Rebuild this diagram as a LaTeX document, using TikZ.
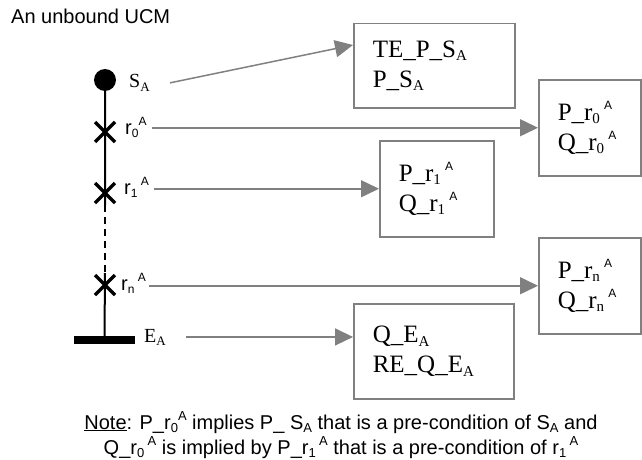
\documentclass[tikz,border=0pt]{standalone}
\usepackage{fontspec}
\setmainfont{Liberation Serif}
\setsansfont{Liberation Sans}
\usetikzlibrary{arrows.meta, calc, positioning}
\definecolor{lgray}{HTML}{808080}
\newcommand{\lo}[2][13]{\raisebox{-0.15em}{\fontsize{#1}{#1}\selectfont #2}}
\newcommand{\hi}[2][12]{\raisebox{0.42em}{\fontsize{#1}{#1}\selectfont\sffamily #2}}
\tikzset{ucm/.style={line width=2pt},
  resp/.style={line width=3.5pt},
  cond/.style={draw=lgray, line width=1.5pt, align=left, anchor=north west, inner xsep=19pt, inner ysep=0pt, font=\fontsize{25}{30}\selectfont},
  link/.style={lgray, line width=1.5pt, -{Triangle[length=18pt, width=17pt]}},
  lbl/.style={inner sep=0pt, anchor=base west, font=\sffamily\fontsize{20}{20}\selectfont},
  tlbl/.style={inner sep=0pt, anchor=base west, font=\fontsize{20}{20}\selectfont}}

\begin{document}
\begin{tikzpicture}[x=1pt, y=-1pt]
  \useasboundingbox (0,0) rectangle (642,460);
  \node[anchor=base west, inner sep=0pt, font=\sffamily\fontsize{20}{20}\selectfont] (title) at (11,24) {An unbound UCM};
  % the path
  \node[circle, fill, inner sep=0pt, minimum size=22pt] (start) at (105,80) {};
  \node[fill, inner sep=0pt, minimum width=61pt, minimum height=8pt] (stop) at (104.5,340) {};
  \coordinate (r0) at (105,132); \coordinate (r1) at (105,193); \coordinate (rn) at (105,285);
  \coordinate (gapa) at (105,205); \coordinate (gapb) at (105,273);
  \draw[ucm] (start) -- (gapa) (gapb) -- (stop.north);
  \draw[ucm, dash pattern=on 7pt off 5pt] (gapa) -- (gapb);
  \foreach \c in {r0,r1,rn}
    \draw[resp] ($(\c)+(-10,-10)$) -- ($(\c)+(10,10)$) ($(\c)+(-10,10)$) -- ($(\c)+(10,-10)$);
  \node[tlbl] (sa) at (129,88) {S\lo{A}};
  \node[lbl] (l0) at (125,134) {r\lo[12]{0}\hi{A}};
  \node[lbl] (l1) at (124,194) {r\lo[12]{1}\,\hi{A}};
  \node[lbl] (ln) at (121,290) {r\lo[12]{n}\,\hi{A}};
  \node[tlbl] (ea) at (144,342) {E\lo{A}};
  % conditions
  \node[cond, text width=123pt, minimum height=84pt] (bs) at (353,23) {TE\_P\_S\lo[15]{A}\\P\_S\lo[15]{A}};
  \node[cond, text width=64pt, minimum height=96pt] (b0) at (538,79) {P\_r\lo[15]{0}\,\hi{A}\\Q\_r\lo[15]{0}\,\hi{A}};
  \node[cond, text width=76pt, minimum height=96pt] (b1) at (379,140) {P\_r\lo[15]{1}\,\hi{A}\\Q\_r\lo[15]{1}\,\hi{A}};
  \node[cond, text width=64pt, minimum height=96pt] (bn) at (538,237) {P\_r\lo[15]{n}\,\hi{A}\\Q\_r\lo[15]{n}\,\hi{A}};
  \node[cond, text width=122pt, minimum height=95pt] (be) at (353,303) {Q\_E\lo[15]{A}\\RE\_Q\_E\lo[15]{A}};
  \coordinate (st) at ([xshift=20pt]sa.east);
  \coordinate (et) at ([xshift=20pt]ea.east);
  \coordinate (bsin) at ($(bs.north west)+(0,22)$);
  \draw[link] (st) -- (bsin);
  \draw[link] ([xshift=5pt]l0.east |- b0.west) -- (b0.west);
  \draw[link] ([xshift=5pt]l1.east |- b1.west) -- (b1.west);
  \draw[link] ([xshift=3pt]ln.east |- bn.west) -- (bn.west);
  \draw[link] (et) -- (et -| be.west);
  \node[align=center, inner sep=0pt, font=\sffamily\fontsize{20}{25}\selectfont] (note) at (341,435)
    {\underline{Note}: P\_r\lo[13]{0}\hi[13]{A} implies P\_ S\lo[13]{A} that is a pre-condition of S\lo[13]{A} and\\
     Q\_r\lo[13]{0}\,\hi[13]{A} is implied by P\_r\lo[13]{1}\,\hi[13]{A}\ that is a pre-condition of r\lo[13]{1}\,\hi[13]{A}};
\end{tikzpicture}
\end{document}
